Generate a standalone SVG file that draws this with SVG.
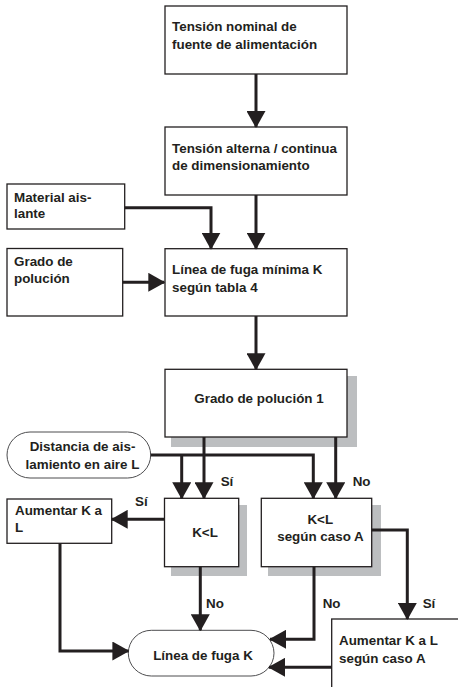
<svg xmlns="http://www.w3.org/2000/svg" width="458" height="687" viewBox="0 0 458 687">
<defs>
<marker id="ah" markerUnits="userSpaceOnUse" markerWidth="17" markerHeight="19" viewBox="0 0 17 19" refX="16" refY="9.5" orient="auto">
<path d="M0,0 L17,9.5 L0,19 z" fill="#231f20"/>
</marker>
<style>
.box{fill:#fff;stroke:#231f20;stroke-width:1.3}
.stad{fill:#fff;stroke:#4d4d4f;stroke-width:1}
.sh{fill:#bcbec0}
.t{font-family:"Liberation Sans",Arial,sans-serif;font-weight:bold;font-size:13.4px;fill:#231f20}
.m{text-anchor:middle}
.c{fill:none;stroke:#231f20;stroke-width:3}
.a{marker-end:url(#ah)}
</style>
</defs>
<rect width="458" height="687" fill="#fff"/>
<g id="n1"><rect class="box" x="165" y="6" width="182" height="68"/><text class="t" x="172" y="30.7">Tensión nominal de</text><text class="t" x="172" y="49">fuente de alimentación</text></g>
<g id="n2"><rect class="box" x="165" y="127" width="182" height="68"/><text class="t" x="172" y="152.7">Tensión alterna / continua</text><text class="t" x="172" y="170">de dimensionamiento</text></g>
<g id="n3"><rect class="box" x="7" y="184" width="117.7" height="45"/><text class="t" x="14" y="201.7">Material ais-</text><text class="t" x="14" y="218">lante</text></g>
<g id="n4"><rect class="box" x="7" y="248.5" width="115.7" height="67.5"/><text class="t" x="14" y="265.7">Grado de</text><text class="t" x="14" y="283.3">polución</text></g>
<g id="n5"><rect class="box" x="165" y="248.7" width="182" height="67.3"/><text class="t" x="172" y="274">Línea de fuga mínima K</text><text class="t" x="172" y="291.7">según tabla 4</text></g>
<g id="n6"><rect class="sh" x="171" y="376" width="186" height="71"/><rect class="box" x="165" y="369.3" width="182" height="67.7"/><text class="t m" x="259" y="403.3">Grado de polución 1</text></g>
<g id="n7"><rect class="stad" x="7" y="432" width="143.7" height="46" rx="23" ry="23"/><text class="t m" x="82.5" y="450.7">Distancia de ais-</text><text class="t m" x="82.5" y="469">lamiento en aire L</text></g>
<g id="n8"><rect class="sh" x="171" y="505" width="76" height="71"/><rect class="box" x="164.5" y="498.3" width="74.2" height="68.4"/><text class="t m" x="205" y="537.3">K&lt;L</text></g>
<g id="n9"><rect class="sh" x="268" y="505" width="113" height="71"/><rect class="box" x="261.3" y="498.3" width="110.4" height="68.4"/><text class="t m" x="320.3" y="524">K&lt;L</text><text class="t m" x="320.5" y="540.7">según caso A</text></g>
<g id="n10"><rect class="box" x="7" y="499" width="104.7" height="44.3"/><text class="t" x="15" y="515">Aumentar K a</text><text class="t" x="15" y="531.7">L</text></g>
<g id="n11"><rect class="box" x="331.7" y="619" width="140" height="90"/><text class="t" x="339" y="645">Aumentar K a L</text><text class="t" x="339" y="663.3">según caso A</text></g>
<g id="n12"><rect class="stad" x="128.3" y="630.3" width="145.7" height="45.7" rx="23" ry="23"/><text class="t m" x="203" y="660">Línea de fuga K</text></g>
<g id="connectors">
<path class="c a" d="M256,74 V127"/>
<path class="c a" d="M256,195 V248.7"/>
<path class="c a" d="M124.7,207.7 H211 V248.7"/>
<path class="c a" d="M122.7,282.3 H164.3"/>
<path class="c a" d="M256,316 V369.3"/>
<path class="c a" d="M204,437 V498.3"/>
<path class="c a" d="M335.7,437 V498.3"/>
<path class="c a" d="M150.7,455 H313.3 V498.3"/>
<path class="c a" d="M181.7,455 V498.3"/>
<path class="c a" d="M164.3,519.3 H111.7"/>
<path class="c a" d="M60,543.3 V651 H128.4"/>
<path class="c a" d="M200.3,566.7 V630.3"/>
<path class="c a" d="M314,566.7 V639.3 H270"/>
<path class="c a" d="M371.7,530 H407.3 V619"/>
<path class="c a" d="M331.7,667.3 H269"/>
<text class="t" x="220.7" y="485.7">Sí</text>
<text class="t" x="352.7" y="486">No</text>
<text class="t" x="135" y="506">Sí</text>
<text class="t" x="206" y="608.3">No</text>
<text class="t" x="322.7" y="608.3">No</text>
<text class="t" x="422.7" y="608">Sí</text>
</g>
</svg>
